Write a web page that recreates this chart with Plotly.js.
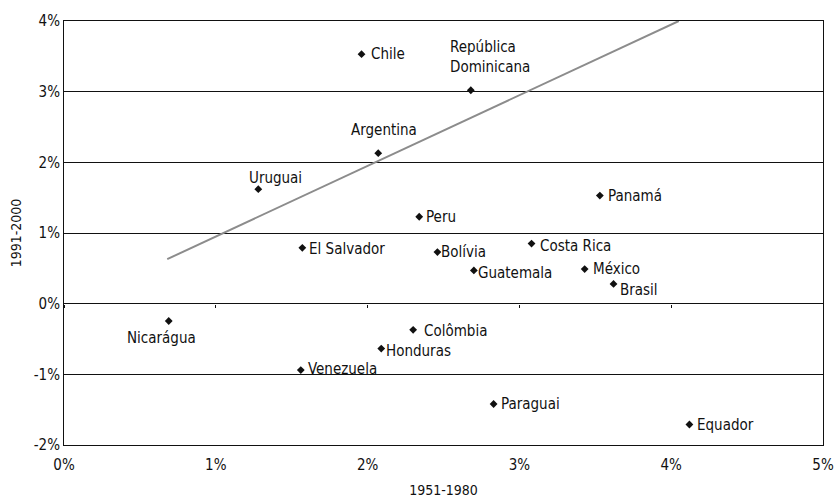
<!DOCTYPE html>
<html>
<head>
<meta charset="utf-8">
<script src="https://cdn.plot.ly/plotly-3.0.1.min.js"></script>
<style>html,body{margin:0;padding:0;background:#fff;}#chart{width:834px;height:500px;}</style>
</head>
<body>
<div id="chart"></div>
<script>
// Data: growth rates (%), 1951-1980 (x) vs 1991-2000 (y)
var countries = ["Chile","República<br>Dominicana","Argentina","Uruguai","Peru","Panamá","El Salvador","Bolívia","Costa Rica","Guatemala","México","Brasil","Nicarágua","Colômbia","Honduras","Venezuela","Paraguai","Equador"];
var growth1951_1980 = [1.96, 2.68, 2.07, 1.28, 2.34, 3.53, 1.57, 2.46, 3.08, 2.70, 3.43, 3.62, 0.69, 2.30, 2.09, 1.56, 2.83, 4.12];
var growth1991_2000 = [3.53, 3.02, 2.13, 1.62, 1.23, 1.53, 0.79, 0.73, 0.85, 0.47, 0.49, 0.28, -0.245, -0.37, -0.635, -0.94, -1.42, -1.71];
// Reference line
var lineX = [0.68, 4.05];
var lineY = [0.63, 4.0];
// Axis ticks
var xTicks = [0,1,2,3,4,5];
var yTicks = [-2,-1,0,1,2,3,4];
var xTickLabels = ["0%","1%","2%","3%","4%","5%"];
var yTickLabels = ["-2%","-1%","0%","1%","2%","3%","4%"];

// Label placement (style only): [xanchor, yanchor, xshift, yshift, align]
var labelStyle = [
  ["left","middle",7,0,"left"],
  ["left","bottom",-23,12,"left"],
  ["center","bottom",6,12,"center"],
  ["left","middle",-11,11,"left"],
  ["left","middle",5,0,"left"],
  ["left","middle",6,0,"left"],
  ["left","middle",5,-1,"left"],
  ["left","middle",2,0,"left"],
  ["left","middle",6,-2,"left"],
  ["left","middle",2,-3,"left"],
  ["left","middle",6,0,"left"],
  ["left","middle",4,-6,"left"],
  ["center","middle",-7,-17,"center"],
  ["left","middle",9,-1,"left"],
  ["left","middle",3,-2,"left"],
  ["left","middle",5,1,"left"],
  ["left","middle",5,0,"left"],
  ["left","middle",6,0,"left"]
];

var FONT = "'Liberation Sans Narrow', 'DejaVu Sans Condensed', 'Arial Narrow', sans-serif";
var TXT = '#111';

var annotations = countries.map(function(c, i){
  var s = labelStyle[i];
  return {
    x: growth1951_1980[i], y: growth1991_2000[i], xref: 'x', yref: 'y',
    text: c, showarrow: false,
    xanchor: s[0], yanchor: s[1], xshift: s[2], yshift: s[3], align: s[4],
    font: {family: FONT, size: 15, color: TXT}
  };
});

var traces = [
  {
    x: lineX, y: lineY, mode: 'lines', type: 'scatter',
    line: {color: '#8c8c8c', width: 2}, hoverinfo: 'skip', showlegend: false
  },
  {
    x: growth1951_1980, y: growth1991_2000, mode: 'markers', type: 'scatter',
    marker: {symbol: 'diamond', size: 6, color: '#111'}, showlegend: false
  },
  {
    // invisible trace so the zero-line tick axis is drawn
    x: lineX, y: lineY, xaxis: 'x2', yaxis: 'y', mode: 'lines',
    line: {width: 0, color: 'rgba(0,0,0,0)'}, hoverinfo: 'skip', showlegend: false
  }
];

var layout = {
  width: 834, height: 500,
  margin: {l: 64, r: 11, t: 21, b: 55},
  paper_bgcolor: '#fff', plot_bgcolor: '#fff',
  font: {family: FONT, size: 15, color: TXT},
  showlegend: false,
  xaxis: {
    range: [0, 5], tickvals: xTicks, ticktext: xTickLabels,
    showgrid: false, zeroline: false,
    showline: true, mirror: true, linecolor: '#111', linewidth: 1,
    ticks: '', ticklen: 0, ticklabelstandoff: 6,
    title: {text: '1951-1980', font: {family: FONT, size: 14, color: TXT}, standoff: 12},
    tickfont: {family: FONT, size: 15, color: TXT}
  },
  xaxis2: {
    range: [0, 5], overlaying: 'x', anchor: 'free', position: 2/6, side: 'bottom',
    tickvals: xTicks, showticklabels: false, ticks: 'outside', ticklen: 3,
    tickcolor: '#111', showline: false, showgrid: false, zeroline: false
  },
  yaxis: {
    range: [-2, 4], tickvals: yTicks, ticktext: yTickLabels,
    showgrid: true, gridcolor: '#111', gridwidth: 1,
    zeroline: false,
    showline: true, mirror: true, linecolor: '#111', linewidth: 1,
    ticks: '', ticklen: 0,
    title: {text: '1991-2000', font: {family: FONT, size: 14, color: TXT}, standoff: 8},
    tickfont: {family: FONT, size: 15, color: TXT}
  },
  annotations: annotations
};

Plotly.newPlot('chart', traces, layout, {displayModeBar: false, staticPlot: true});
</script>
</body>
</html>
